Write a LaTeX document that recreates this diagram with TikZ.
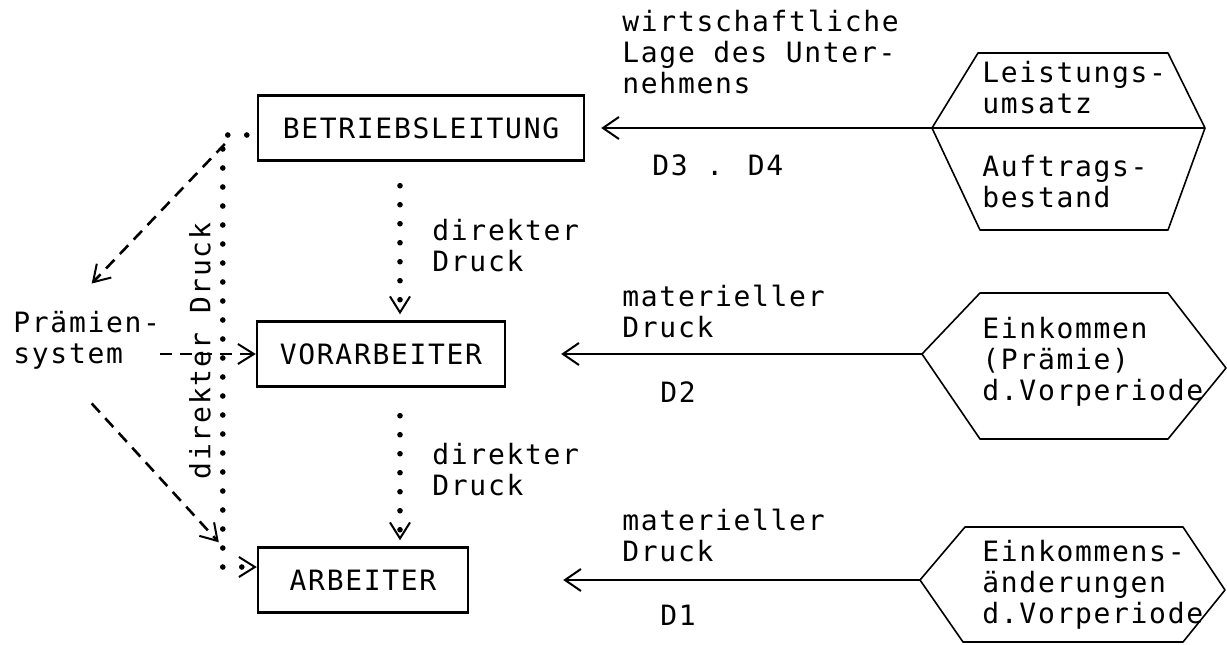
\documentclass[tikz,border=0pt]{standalone}
\usepackage{fontspec}
\newfontfamily\typewr{DejaVu Sans Mono}[LetterSpace=6.0]
\usetikzlibrary{arrows.meta}
\begin{document}
\begin{tikzpicture}
[x=0.5pt, y=-0.5pt, font=\typewr\fontsize{14}{15.5}\selectfont]
\tikzstyle{ebene}=[draw, line width=1.2pt, minimum height=32.5pt, inner sep=0pt]
\tikzstyle{txt}=[align=left, inner sep=0pt, anchor=west]
\tikzstyle{hexa}=[line width=0.8pt, line join=round]
\tikzstyle{mat}=[-{Straight Barb[length=8pt,width=11pt,line width=1pt]}, line width=1pt]
\tikzstyle{direkt}=[-{Straight Barb[length=8pt,width=10pt,line width=1pt]}, line width=2.8pt, line cap=round, dash pattern=on 0pt off 9.5pt]
\tikzstyle{praemie}=[-{Straight Barb[length=8pt,width=10pt,line width=1pt]}, line width=1.3pt, dash pattern=on 6pt off 4pt]
\useasboundingbox (0,0) rectangle (1227,644);

% Ebenen
\node[ebene, minimum width=163pt] (BL)  at (421,128) {BETRIEBSLEITUNG};
\node[ebene, minimum width=124pt] (VOR) at (381,354) {VORARBEITER};
\node[ebene, minimum width=105pt] (ARB) at (363,580) {ARBEITER};

\node[txt] (PS) at (13,340) {Prämien-\\system};
\node[rotate=90] (DD) at (200,351) {direkter Druck};
\node[txt] (dir1) at (432,246) {direkter\\Druck};
\node[txt] (dir2) at (432,470) {direkter\\Druck};

% rechte Seite
\node[txt] (WL)  at (622,52)  {wirtschaftliche\\Lage des Unter-\\nehmens};
\node[txt] (D34) at (652,165) {D3 . D4};
\node[txt] (MD2) at (622,311) {materieller\\Druck};
\node[txt] (D2)  at (660,392) {D2};
\node[txt] (MD1) at (622,535) {materieller\\Druck};
\node[txt] (D1)  at (660,615) {D1};

\coordinate (H3) at (932,128);
\coordinate (H2) at (922,354);
\coordinate (H1) at (920,580);
\draw[hexa] (H3) -- (978,53) -- (1168,53) -- (1205,128) -- (1168,230) -- (980,230) -- cycle;
\draw[hexa] (H3) -- (1205,128);
\draw[hexa] (H2) -- (980,293) -- (1168,293) -- (1226,368) -- (1168,439) -- (980,439) -- cycle;
\draw[hexa] (H1) -- (965,527) -- (1183,527) -- (1225,590) -- (1183,642) -- (963,642) -- cycle;
\node[txt] (LU) at (982,88)  {Leistungs-\\umsatz};
\node[txt] (AB) at (982,182) {Auftrags-\\bestand};
\node[txt] (EP) at (982,362) {Einkommen\\(Prämie)\\d.Vorperiode};
\node[txt] (EA) at (982,585) {Einkommens-\\änderungen\\d.Vorperiode};

\draw[mat] (H3) -- ([xshift=8pt]BL.east);
\draw[mat] (H2) -- ([xshift=27.5pt]VOR.east);
\draw[mat] (H1) -- ([xshift=47pt]ARB.east);

\draw[direkt] ([xshift=-10.5pt,yshift=-12pt]BL.south) -- ([xshift=9.5pt,yshift=3pt]VOR.north);
\draw[direkt] ([xshift=9.5pt,yshift=-14pt]VOR.south) -- ([xshift=18.5pt,yshift=3pt]ARB.north);
\draw[direkt] ([xshift=-5pt,yshift=-3.5pt]BL.west) -- ++(-12pt,0) |- ([yshift=6.5pt]ARB.west);

\draw[praemie] ([xshift=-16pt,yshift=-8pt]BL.west) -- ([xshift=2.5pt,yshift=13.5pt]PS.north);
\draw[praemie] (PS.east |- VOR.west) -- (VOR.west);
\draw[praemie] ([xshift=2.5pt,yshift=-17pt]PS.south) -- ([xshift=-19pt,yshift=2pt]ARB.north west);
\end{tikzpicture}
\end{document}
